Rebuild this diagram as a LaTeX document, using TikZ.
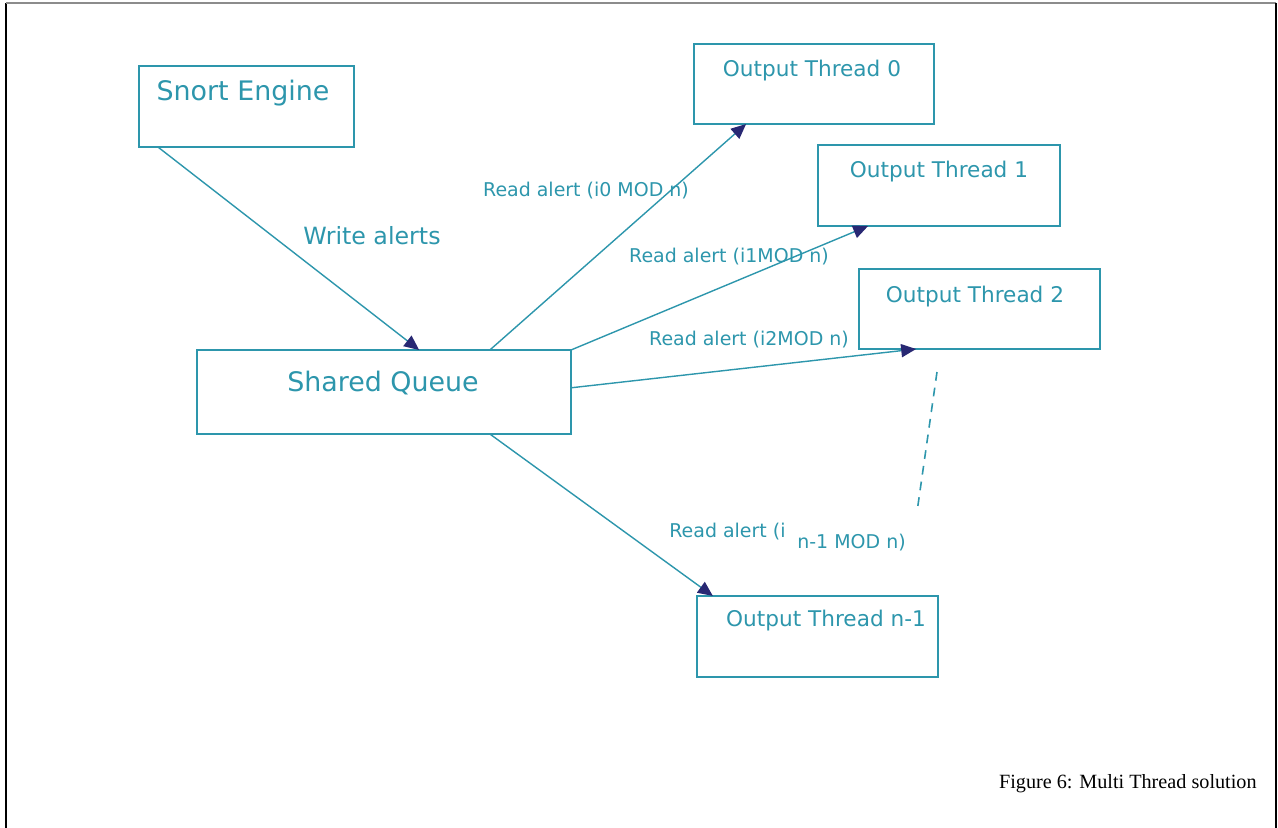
\documentclass[tikz,border=0pt]{standalone}
\usepackage{fontspec}
\setmainfont{DejaVu Sans}
\newfontfamily\capfont{Liberation Serif}
\usetikzlibrary{arrows.meta,calc}
\definecolor{lineteal}{RGB}{45,150,172}
\definecolor{headnavy}{RGB}{40,40,115}
\tikzset{
  box/.style 2 args={draw=lineteal, line width=1.1pt, minimum width=#1*0.02cm, minimum height=#2*0.02cm, inner sep=0pt, outer sep=0pt},
  flow/.style={draw=lineteal, line width=0.8pt, -{Triangle[length=8.5pt,width=7.5pt,fill=headnavy,color=headnavy]}},
  bigtxt/.style={text=lineteal, inner sep=0pt, font=\fontsize{15.3}{18}\selectfont},
  thtxt/.style={text=lineteal, inner sep=0pt, font=\fontsize{12.3}{14}\selectfont},
  lbl/.style={text=lineteal, inner sep=0pt, font=\fontsize{10.8}{13}\selectfont},
}
\begin{document}
\begin{tikzpicture}[x=0.02cm,y=-0.02cm]
  \useasboundingbox (0,0) rectangle (1278,828);
  % page frame
  \draw[black, line width=1.6pt] (6,828) -- (6,3);
  \draw[black!45, line width=0.8pt] (6,3) -- (1276,3);
  \draw[black, line width=0.9pt] (1276,3) -- (1276,828);

  % boxes
  \node[box={215}{81}] (snort) at (246.5,106.5) {};
  \node[box={374}{84}] (queue) at (384,392) {};
  \node[box={240}{80}] (ot0) at (814,84) {};
  \node[box={242}{81}] (ot1) at (939,185.5) {};
  \node[box={241}{80}] (ot2) at (979.5,309) {};
  \node[box={241}{81}] (otn) at (817.5,636.5) {};

  % box texts
  \node[bigtxt] (snortT) at (243,93) {Snort Engine};
  \node[bigtxt] (queueT) at (383,383) {Shared Queue};
  \node[thtxt] (ot0T) at (812,71) {Output Thread 0};
  \node[thtxt] (ot1T) at (939,172) {Output Thread 1};
  \node[thtxt] (ot2T) at (975,297) {Output Thread 2};
  \node[thtxt] (otnT) at (826,621) {Output Thread n-1};

  % connectors, anchored on the box edges
  \draw[flow] ($(snort.south west)!0.088!(snort.south east)$)
           -- ($(queue.north west)!0.594!(queue.north east)$);
  \draw[flow] ($(queue.north west)!0.783!(queue.north east)$)
           -- ($(ot0.south west)!0.217!(ot0.south east)$);
  \draw[flow] (queue.north east)
           -- ($(ot1.south west)!0.207!(ot1.south east)$);
  \draw[flow] ($(queue.north east)!0.45!(queue.south east)$)
           -- ($(ot2.south west)!0.237!(ot2.south east)$);
  \draw[flow] ($(queue.south west)!0.783!(queue.south east)$)
           -- ($(otn.north west)!0.066!(otn.north east)$);

  % dashed continuation between thread 2 and thread n-1
  \coordinate (dTop) at (937,372);
  \coordinate (dBot) at (917,512);
  \draw[lineteal, line width=0.9pt, dash pattern=on 5pt off 4pt] (dTop) -- (dBot);

  % connector labels
  \node[bigtxt, font=\fontsize{13.5}{16}\selectfont] (wl) at (372,236) {Write alerts};
  \node[lbl] (r0) at (586,191) {Read alert (i0 MOD n)};
  \node[lbl] (r1) at (729,257) {Read alert (i1MOD n)};
  \node[lbl] (r2) at (749,340) {Read alert (i2MOD n)};
  \node[lbl, anchor=west] (rn) at (669,532) {Read alert (i};
  \node[lbl, anchor=west] (rnb) at (797,543) {n-1 MOD n)};

  % caption
  \node[anchor=east, inner sep=0pt, font=\capfont\fontsize{11.5}{14}\selectfont] (cap) at (1257,784) {Figure 6: Multi Thread solution};
\end{tikzpicture}
\end{document}
